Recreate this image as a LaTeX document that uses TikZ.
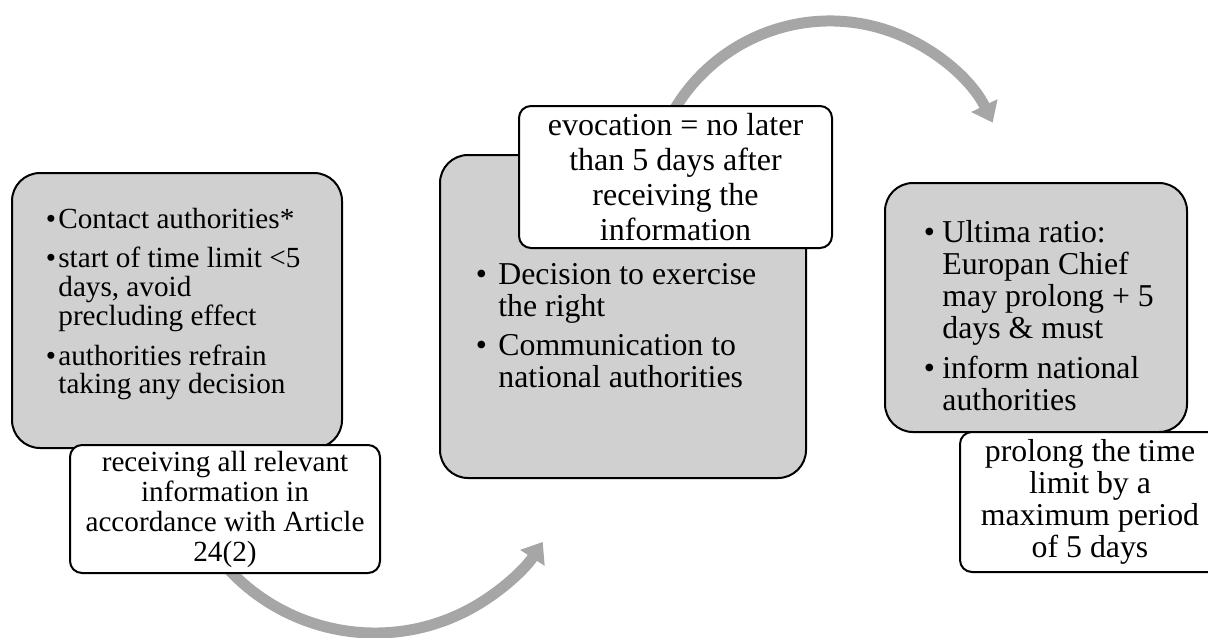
\documentclass[tikz,border=0pt]{standalone}
\usepackage{fontspec}
\setmainfont{Liberation Serif}
\usetikzlibrary{arrows.meta,backgrounds}
\definecolor{panelgray}{HTML}{D0D0D0}
\definecolor{arrowgray}{HTML}{A6A6A6}
\tikzset{
    panel/.style={
            rectangle,
            draw,
            line width=1pt,
            fill=panelgray,
            rounded corners=14pt,
            inner sep=0pt
        },
    tag/.style={
            rectangle,
            draw,
            line width=1pt,
            fill=white,
            rounded corners=6pt,
            inner sep=0pt,
            align=center
        },
    bullets/.style={
            anchor=base west,
            inner sep=0pt
        },
    loop arrow/.style={
            draw=arrowgray,
            line width=5.5pt,
            -{Triangle[width=14pt,length=9.5pt]}
        }
}

\begin{document}
\begin{tikzpicture}[x=0.5pt,y=-0.5pt]
  \useasboundingbox (0,0) rectangle (1208,637);
  % grey panels
  \node[panel, minimum width=165pt, minimum height=137.5pt] (g1) at (177,310.5) {};
  \node[panel, minimum width=183pt, minimum height=161.5pt] (g2) at (623,316.5) {};
  \node[panel, minimum width=151pt, minimum height=124.5pt] (g3) at (1036,307.5) {};
  \node[bullets, font=\fontsize{14.6}{14.25}\selectfont] (g1list) at (45.5,228) {\begin{tabular}[t]{@{}p{6.25pt}@{}l@{}}
    \textbullet & Contact authorities*\\[5.25pt]
    \textbullet & start of time limit <5\\
                & days, avoid\\
                & precluding effect\\[5.25pt]
    \textbullet & authorities refrain\\
                & taking any decision
  \end{tabular}};
  \node[bullets, font=\fontsize{15.9}{16}\selectfont] (g2list) at (475.5,284) {\begin{tabular}[t]{@{}p{11.25pt}@{}l@{}}
    \textbullet & Decision to exercise\\
                & the right\\[3.5pt]
    \textbullet & Communication to\\
                & national authorities
  \end{tabular}};
  \node[bullets, font=\fontsize{15.9}{16}\selectfont] (g3list) at (923.5,242) {\begin{tabular}[t]{@{}p{9.25pt}@{}l@{}}
    \textbullet & Ultima ratio:\\
                & Europan Chief\\
                & may prolong + 5\\
                & days \& must\\[4pt]
    \textbullet & inform national\\
                & authorities
  \end{tabular}};
  % white tags
  \node[tag, minimum width=155pt, minimum height=64pt, font=\fontsize{14.6}{15}\selectfont] (w1) at (225,509)
    {receiving all relevant\\information in\\accordance with Article\\24(2)};
  \node[tag, minimum width=156.5pt, minimum height=71pt, font=\fontsize{16}{17.5}\selectfont] (w2) at (675.5,177)
    {evocation = no later\\than 5 days after\\receiving the\\information};
  \node[tag, minimum width=130pt, minimum height=70pt, font=\fontsize{15.9}{16}\selectfont] (w3) at (1090,502)
    {prolong the time\\limit by a\\maximum period\\of 5 days};
  % curved arrows behind
  \begin{scope}[on background layer]
    \coordinate (turn1) at (375,433);
    \coordinate (turn2) at (830,202);
    \draw[loop arrow] ([shift={(150:200)}]turn1) arc[start angle=150, end angle=33, radius=200];
    \draw[loop arrow] ([shift={(200:181)}]turn2) arc[start angle=200, end angle=334, radius=181];
  \end{scope}
\end{tikzpicture}
\end{document}
